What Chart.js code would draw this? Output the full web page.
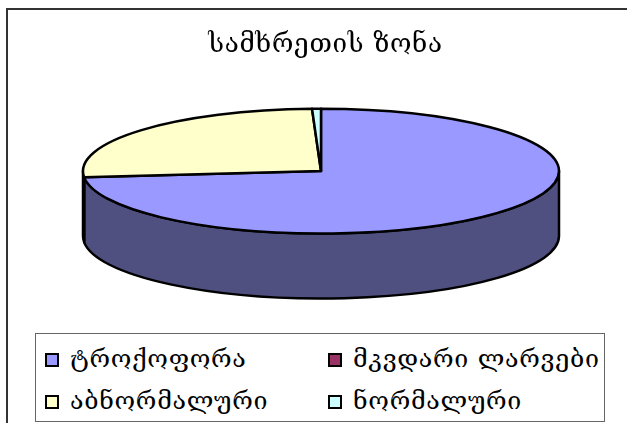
<!DOCTYPE html>
<html>
<head>
<meta charset="utf-8">
<script src="https://cdn.jsdelivr.net/npm/chart.js@4"></script>
<style>
  html, body { margin: 0; padding: 0; background: #fff; overflow: hidden; }
  #wrap { position: relative; width: 627px; height: 423px; overflow: hidden; }
  #frame { position: absolute; left: 6px; top: 8px; width: 700px; height: 500px; border: 2px solid #333; }
  canvas { position: absolute; left: 0; top: 0; }
  #legend { position: absolute; left: 35px; top: 333px; width: 568px; height: 87px; border: 1px solid #666; background: #fff;
    font-family: "DejaVu Serif", "DejaVu Sans", serif; font-size: 25px; color: #000; letter-spacing: 0.7px; }
  .item { position: absolute; white-space: pre; line-height: 30px; height: 30px; }
  .item i { position: absolute; left: 0; top: 9px; width: 10px; height: 10px; border: 2px solid #000; }
  .item span { position: absolute; left: 25px; top: 0; }
</style>
</head>
<body>
<div id="wrap">
  <div id="frame"></div>
  <canvas id="pie" width="627" height="423"></canvas>
  <div id="legend"></div>
</div>
<script>
const titleText = 'სამხრეთის ზონა';
const categories = ['ტროქოფორა', 'მკვდარი ლარვები', 'აბნორმალური', 'ნორმალური'];
const values = [73.4, 0, 26, 0.6];
const colors = ['#9999ff', '#993366', '#ffffcc', '#ccffff'];
const sideColors = ['#4f4f80', '#4d1a33', '#808066', '#668080'];

const tilt = 0.262;   // squash of the pie disc
const depth = 65;     // height of the side wall
const outline = 2.5;

// side wall + tilted disc. strokes go out in page space so lines stay even
const tiltPlugin = {
  id: 'tilt',
  beforeDraw(chart) {
    chart.ctx.letterSpacing = '0.7px';
  },
  beforeDatasetsDraw(chart) {
    const ctx = chart.ctx;
    const arcs = chart.getDatasetMeta(0).data;
    const cx = arcs[0].x, cy = arcs[0].y, r = arcs[0].outerRadius;

    // front wall only, from the arc angles the library worked out
    ctx.save();
    ctx.lineWidth = outline;
    ctx.lineJoin = 'round';
    ctx.strokeStyle = '#000';
    arcs.forEach((arc, i) => {
      const from = Math.max(arc.startAngle, 0);
      const to = Math.min(arc.endAngle, Math.PI);
      if (to <= from) return;
      ctx.beginPath();
      ctx.ellipse(cx, cy, r, r * tilt, 0, from, to);
      ctx.ellipse(cx, cy + depth, r, r * tilt, 0, to, from, true);
      ctx.closePath();
      ctx.fillStyle = sideColors[i];
      ctx.fill();
      ctx.stroke();
    });
    ctx.restore();

    ctx.save();
    ctx.translate(cx, cy);
    ctx.scale(1, tilt);
    ctx.translate(-cx, -cy);
    ctx.stroke = function () {
      ctx.save();
      ctx.setTransform(1, 0, 0, 1, 0, 0);
      CanvasRenderingContext2D.prototype.stroke.call(ctx);
      ctx.restore();
    };
  },
  afterDatasetsDraw(chart) {
    delete chart.ctx.stroke;
    chart.ctx.restore();
  }
};

new Chart(document.getElementById('pie'), {
  type: 'pie',
  data: {
    labels: categories,
    datasets: [{
      data: values,
      backgroundColor: colors,
      borderColor: '#000',
      borderWidth: outline,
      borderJoinStyle: 'round',
      radius: 238
    }]
  },
  options: {
    responsive: false,
    animation: false,
    layout: { padding: { left: 15, top: 0, bottom: 146, right: 0 } },
    plugins: {
      legend: { display: false },
      tooltip: { enabled: false },
      title: {
        display: true,
        text: ' ' + titleText, // leading space nudges it right of the pie centre
        color: '#000',
        font: { family: '"DejaVu Serif", "DejaVu Sans", serif', size: 26, weight: 'normal' },
        padding: { top: 30, bottom: 4 }
      }
    }
  },
  plugins: [tiltPlugin]
});

// legend is two fixed columns, which the built in one can't do
const legendBox = document.getElementById('legend');
const slots = [[9, 10], [292, 10], [9, 52], [292, 52]];
categories.forEach((name, i) => {
  const item = document.createElement('div');
  item.className = 'item';
  item.style.left = slots[i][0] + 'px';
  item.style.top = slots[i][1] + 'px';
  item.innerHTML = '<i style="background:' + colors[i] + '"></i><span>' + name + '</span>';
  legendBox.appendChild(item);
});
</script>
</body>
</html>
